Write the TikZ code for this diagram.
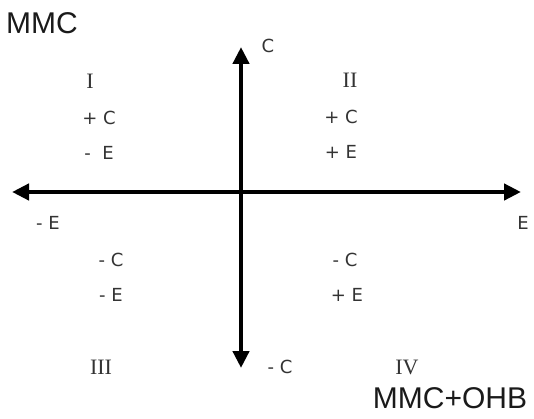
\documentclass[tikz,border=0pt]{standalone}
\usepackage{fontspec}
\setmainfont{Liberation Sans}
\newfontfamily\signfont{DejaVu Sans}
\newfontfamily\romanfont{Liberation Serif}
\usepackage{tikz}
\usetikzlibrary{positioning,arrows.meta}
\definecolor{ink}{HTML}{1A1A1A}
\definecolor{softink}{HTML}{333333}
\tikzset{
  signlabel/.style={inner sep=0pt, text=softink, font=\signfont\fontsize{18}{20}\selectfont},
  quadlabel/.style={inner sep=0pt, text=softink, font=\romanfont\fontsize{22}{24}\selectfont},
  titlelabel/.style={inner sep=0pt, text=ink, font=\fontsize{30}{34}\selectfont},
  axisarrow/.style={{Triangle[length=17pt,width=16pt]}-{Triangle[length=17pt,width=16pt]}, line width=4.5pt, draw=black}
}

\begin{document}
\begin{tikzpicture}[x=1pt,y=1pt]
  \useasboundingbox (0,0) rectangle (534,418);
  % axes
  \coordinate (west) at (12,226);
  \coordinate (east) at (521,226);
  \coordinate (north) at (241,371);
  \coordinate (south) at (241,50);
  \draw[axisarrow] (west) -- (east);
  \draw[axisarrow] (south) -- (north);
  % axis labels
  \node[signlabel] (ctop) at (268,372) {C};
  \node[signlabel] (eright) at (523,195) {E};
  \node[signlabel] (eleft) at (48,195) {- E};
  \node[signlabel] (cbottom) at (280,51) {- C};
  % quadrants
  \node[quadlabel] (q1) at (90,337) {I};
  \node[signlabel] (q1c) at (99,300) {+ C};
  \node[signlabel] (q1e) at (99,265) {-\ \ E};
  \node[quadlabel] (q2) at (350,338) {II};
  \node[signlabel] (q2c) at (341,301) {+ C};
  \node[signlabel] (q2e) at (341,266) {+ E};
  \node[signlabel] (q3c) at (111,158) {- C};
  \node[signlabel] (q3e) at (111,123) {- E};
  \node[quadlabel] (q3) at (101,51) {III};
  \node[signlabel] (q4c) at (345,158) {- C};
  \node[signlabel] (q4e) at (347,123) {+ E};
  \node[quadlabel] (q4) at (407,51) {IV};
  % titles
  \node[titlelabel, anchor=west] (mmc) at (6,395) {MMC};
  \node[titlelabel] (mmcohb) at (450,20) {MMC+OHB};
\end{tikzpicture}
\end{document}
